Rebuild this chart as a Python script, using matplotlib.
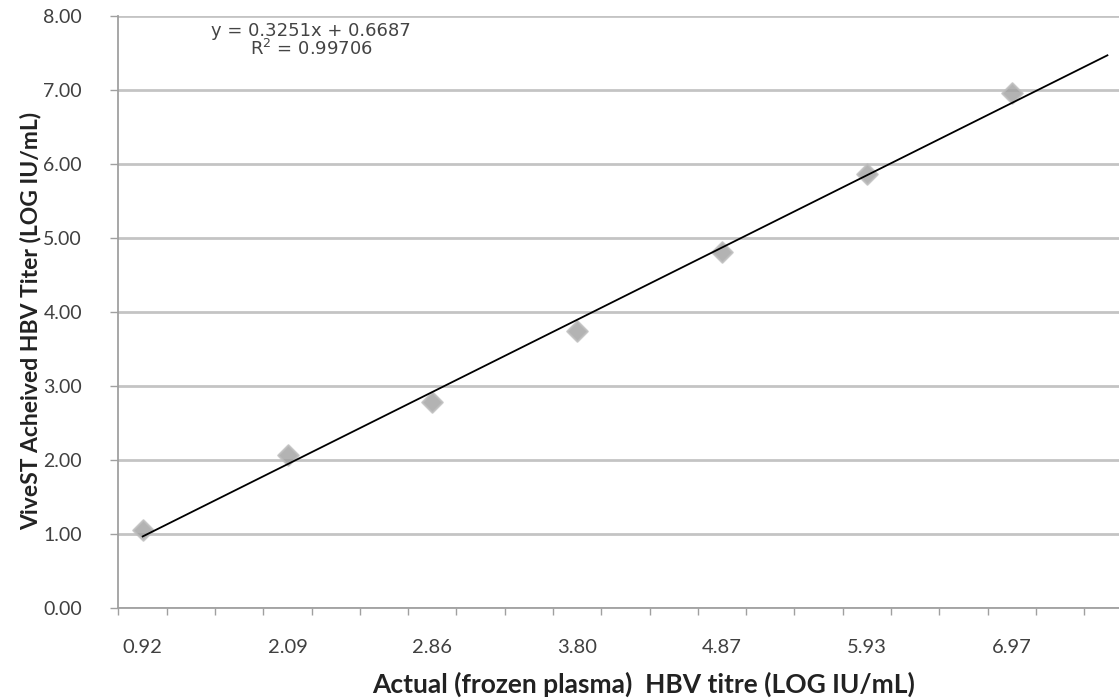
import numpy as np
import matplotlib
matplotlib.use("Agg")
import matplotlib.pyplot as plt

# data (x is the sample order, labelled with the actual titre)
x_labels = ['0.92', '2.09', '2.86', '3.80', '4.87', '5.93', '6.97']
achieved = [1.05, 2.07, 2.78, 3.74, 4.81, 5.86, 6.96]
eq_text = 'y = 0.3251x + 0.6687'
r2_text = 'R$^2$ = 0.99706'

plt.rcParams['font.family'] = ['Lato', 'DejaVu Sans']

fig = plt.figure(figsize=(11.19, 6.98), dpi=100)
ax = fig.add_axes([0.1055, 0.129, 0.8945, 0.848])

xs = np.arange(1, len(achieved) + 1)

# linear trendline, extended forward like the Excel trendline
slope, intercept = np.polyfit(xs, achieved, 1)
x_fit = np.array([1.0, 7.66])
ax.plot(x_fit, slope * x_fit + intercept, color='black', lw=1.3, zorder=3)

ax.scatter(xs, achieved, marker='D', s=110, color='#a0a0a0',
           edgecolor='#bdbdbd', linewidth=1.5, alpha=0.8, zorder=2)

ax.set_xlim(0.83, 7.74)
ax.set_ylim(0, 8)

ax.set_yticks(np.arange(0, 9, 1))
ax.set_yticklabels([f'{v:.2f}' for v in np.arange(0, 9, 1)])
ax.set_xticks(xs)
ax.set_xticklabels(x_labels)
ax.set_xticks(np.arange(0.833, 7.74, 1 / 3), minor=True)

ax.tick_params(axis='x', which='major', length=0, pad=22, labelsize=14.5,
               labelcolor='#404040')
ax.tick_params(axis='x', which='minor', length=5, width=1, color='#a0a0a0')
ax.tick_params(axis='y', length=6, width=1, color='#a0a0a0', pad=20,
               labelsize=14, labelcolor='#404040')

ax.grid(axis='y', color='#c4c4c4', lw=2)
ax.set_axisbelow(True)
for side in ['top', 'right']:
    ax.spines[side].set_visible(False)
for side in ['left', 'bottom']:
    ax.spines[side].set_color('#a0a0a0')
    ax.spines[side].set_linewidth(1.3)

ax.set_xlabel('Actual (frozen plasma)  HBV titre (LOG IU/mL)', fontsize=19,
              fontweight='bold', color='#222222')
ax.set_ylabel('ViveST Acheived HBV Titer (LOG IU/mL)', fontsize=16.5,
              fontweight='bold', color='#222222')
ax.xaxis.set_label_coords(0.525, -0.108)
ax.yaxis.set_label_coords(-0.076, 0.485)

ax.text(0.193, 0.975, eq_text, transform=ax.transAxes, ha='center', va='center',
        fontsize=13, color='#444444', family='DejaVu Sans')
ax.text(0.193, 0.944, r2_text, transform=ax.transAxes, ha='center', va='center',
        fontsize=13, color='#444444', family='DejaVu Sans')

fig.savefig('out.png', dpi=100)
